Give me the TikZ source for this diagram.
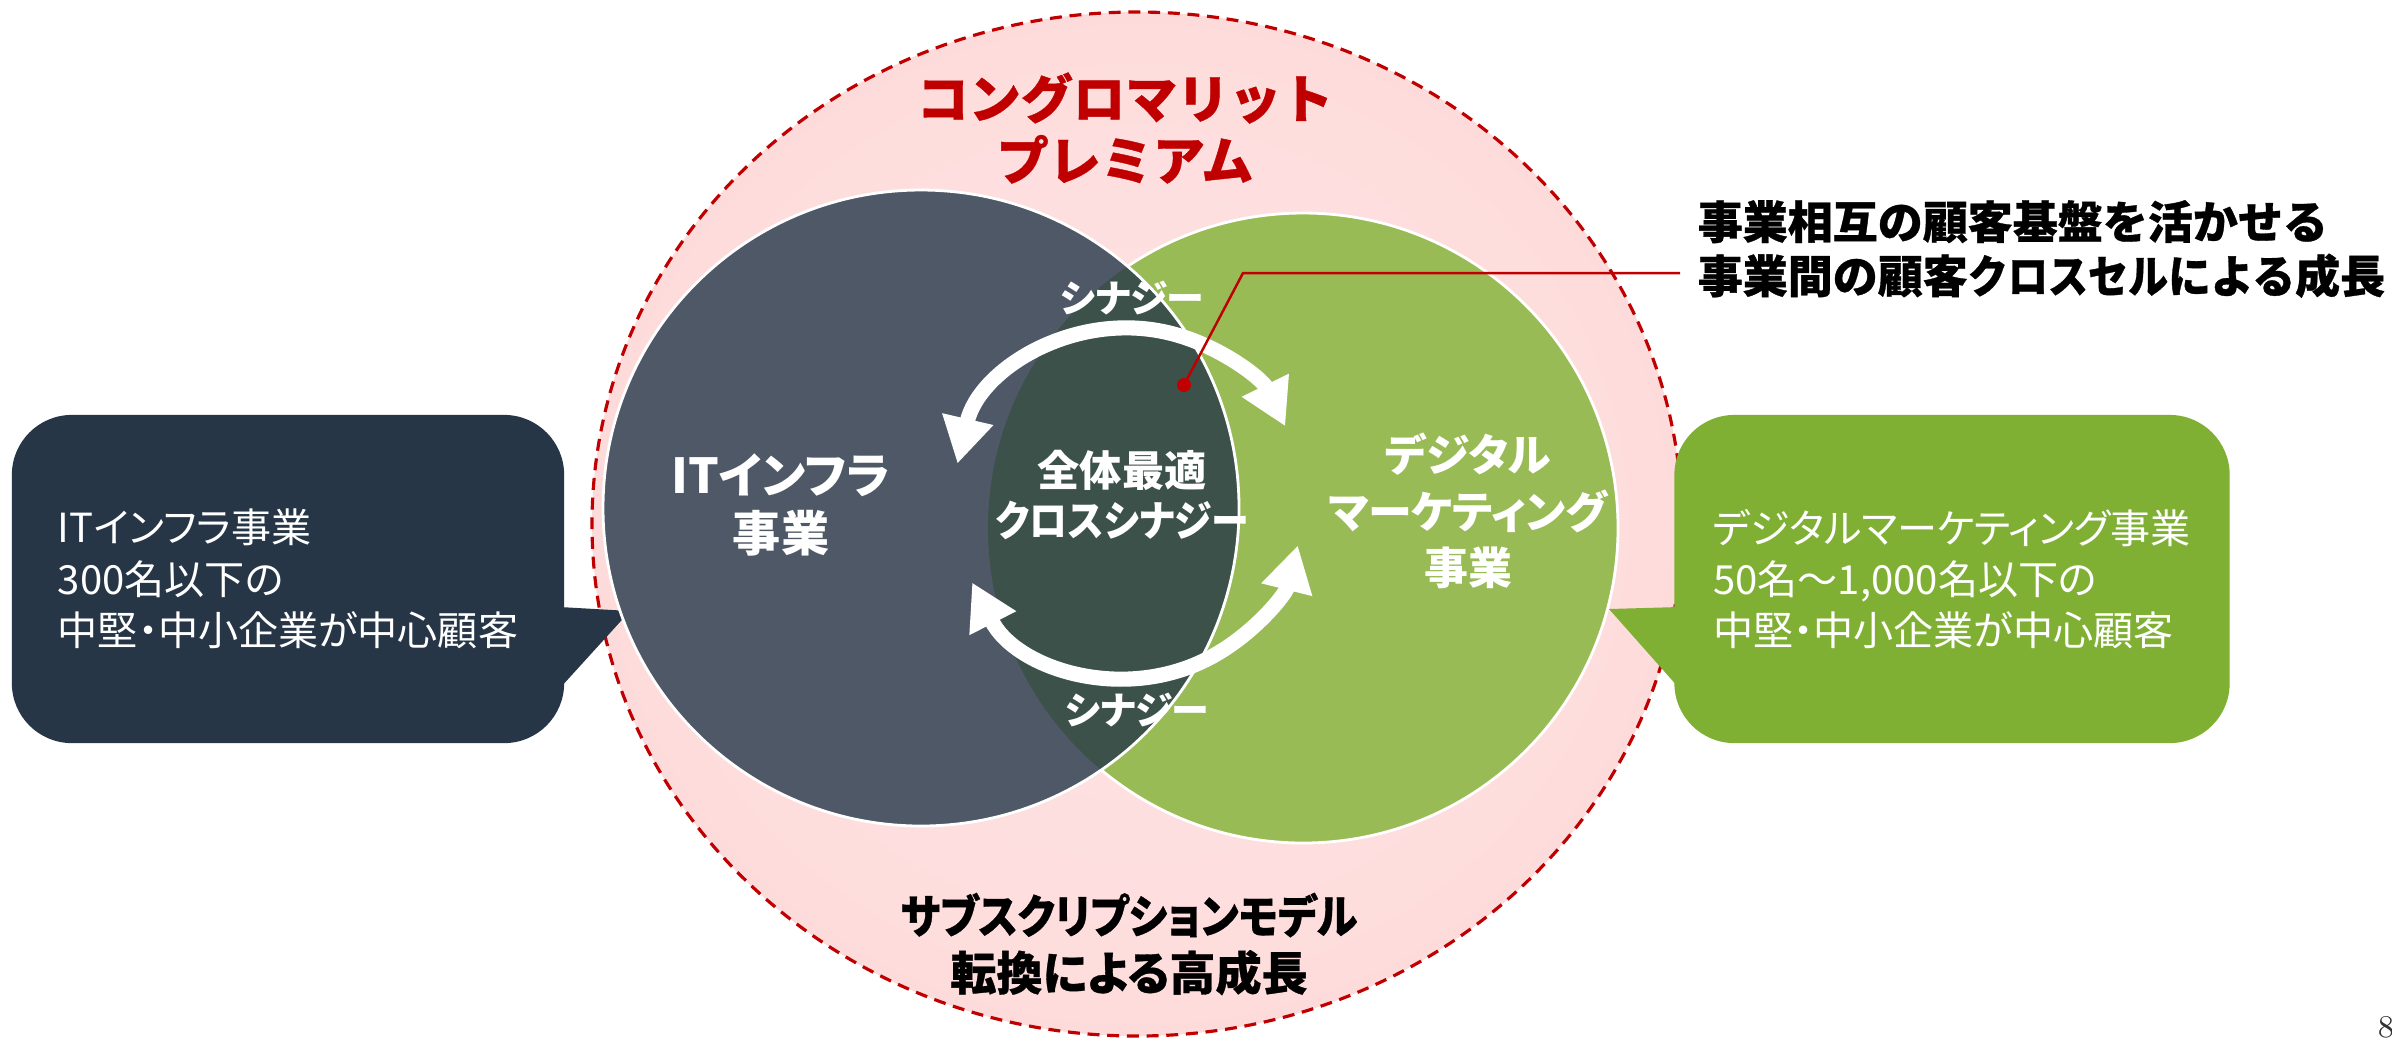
\documentclass[tikz,border=0pt]{standalone}
\usepackage{fontspec}
\usetikzlibrary{arrows.meta}
\newfontfamily\jpfont{Noto Sans CJK JP}[RawFeature=+palt]
\newfontfamily\jpmfont{Noto Sans CJK JP}[BoldFeatures={FakeBold=0.7}]
\newfontfamily\jpnfont{Noto Sans CJK JP}[RawFeature=+palt,FakeStretch=0.9]
\newfontfamily\jpsfont{Noto Sans CJK JP}[RawFeature=+palt,BoldFeatures={FakeBold=0.7}]
\newfontfamily\jpsnfont{Noto Sans CJK JP}[RawFeature=+palt,FakeStretch=0.9,BoldFeatures={FakeBold=0.7}]
\newfontfamily\jpkfont{Noto Sans CJK JP}[FakeStretch=0.89,BoldFeatures={FakeBold=0.7}]
\newfontfamily\jphfont{Noto Sans CJK JP}[FakeStretch=0.95,BoldFeatures={FakeBold=0.7}]
\definecolor{cred}{HTML}{C00000}
\definecolor{cdark}{HTML}{4F5866}
\definecolor{cgreen}{HTML}{98BB56}
\definecolor{clens}{HTML}{3B5149}
\definecolor{cbubL}{HTML}{263646}
\definecolor{cbubR}{HTML}{7FB034}
\definecolor{pinkin}{HTML}{FFE4E4}
\definecolor{pinka}{HTML}{FEDCDC}
\definecolor{pinkmid}{HTML}{FCCACA}
\definecolor{pinkb}{HTML}{F9B6B6}
\definecolor{pinkout}{HTML}{F5A2A4}
\pgfdeclareradialshading{pinkglow}{\pgfpoint{0bp}{0bp}}{color(0bp)=(pinkin); color(24bp)=(pinka); color(40bp)=(pinkmid); color(47bp)=(pinkb); color(50bp)=(pinkout); color(100bp)=(pinkout)}
\begin{document}
\begin{tikzpicture}[x=0.01cm,y=0.01cm,
  bubble/.style={rounded corners=0.6cm, minimum height=3.28cm, inner sep=0pt, text=white, align=left,
    font=\jpfont\fontsize{11.4pt}{14.6pt}\selectfont},
  circborder/.style={white, line width=0.8pt},
  synarrow/.style={white, line width=4.3pt, {Triangle[length=13pt,width=14pt]}-{Triangle[length=13pt,width=14pt]}},
  boldtxt/.style={align=center, inner sep=0pt},
  redline/.style={cred, line width=0.7pt}
]
\useasboundingbox (0,0) rectangle (2392,-1041);
\fill[white] (0,0) rectangle (2392,-1041);

% outer premium ellipse
\path[shading=pinkglow] (1137,-524) ellipse[x radius=545, y radius=512];
\draw[cred, line width=0.9pt, dash pattern=on 3.4pt off 2.2pt] (1137,-524) ellipse[x radius=545, y radius=512];

% speech bubbles
\node[bubble, fill=cbubL, minimum width=5.52cm] (lbub) at (288,-579)
  {ITインフラ事業\\300名以下の\\中堅・中小企業が中心顧客};
\fill[cbubL] (560,-607) -- (630,-611) -- (560,-688) -- cycle;
\node[bubble, fill=cbubR, minimum width=5.55cm] (rbub) at (1952,-579)
  {デジタルマーケティング事業\\50名～1,000名以下の\\中堅・中小企業が中心顧客};
\fill[cbubR] (1679,-607) -- (1609,-609) -- (1679,-688) -- cycle;

% business circles
\fill[cgreen] (1303,-528) circle[radius=315];
\draw[circborder] (1303,-528) circle[radius=315];
\fill[cdark] (921,-508) circle[radius=318];
\begin{scope}
  \clip (921,-508) circle[radius=318];
  \fill[clens] (1303,-528) circle[radius=315];
\end{scope}
\draw[circborder] (921,-508) circle[radius=318];

% synergy arrows
\coordinate (arcc) at (1128,-503);
\draw[synarrow] ([shift={(167:175)}]arcc) arc[start angle=167, end angle=26, radius=175];
\draw[synarrow] ([shift={(207:175)}]arcc) arc[start angle=207, end angle=346, radius=175];

% texts
\node[boldtxt, text=cred, font=\jpmfont\bfseries\fontsize{14.8pt}{17.6pt}\selectfont] (title) at (1125,-128)
  {コングロマリット\\プレミアム};
\node[boldtxt, align=left, anchor=west, font=\jpmfont\bfseries\fontsize{12.8pt}{15.4pt}\selectfont] (annot) at (1697,-249)
  {事業相互の顧客基盤を活かせる\\事業間の顧客{\jpkfont クロスセル}{\jphfont による}成長};
\node[boldtxt, font=\jpsfont\bfseries\fontsize{13.1pt}{16.2pt}\selectfont] (sub) at (1129,-944)
  {{\jpsnfont サブスクリプションモデル}\\転換による高成長};
\node[boldtxt, text=white, font=\jpfont\bfseries\fontsize{13.7pt}{16.5pt}\selectfont] (it) at (781,-505)
  {ITインフラ\\事業};
\node[boldtxt, text=white, font=\jpfont\bfseries\fontsize{12.5pt}{16pt}\selectfont] (dm) at (1468,-511)
  {デジタル\\マーケティング\\事業};
\node[boldtxt, text=white, font=\jpfont\bfseries\fontsize{12pt}{14.2pt}\selectfont] (cs) at (1122,-495)
  {全体最適\\{\jpnfont クロスシナジー}};
\node[boldtxt, text=white, font=\jpfont\bfseries\fontsize{10.8pt}{13pt}\selectfont] (syntop) at (1132,-298) {シナジー};
\node[boldtxt, text=white, font=\jpfont\bfseries\fontsize{10.8pt}{13pt}\selectfont] (synbot) at (1137,-710) {シナジー};

% callout line
\coordinate (dot) at (1184,-385);
\coordinate (bend) at (1243,-273);
\coordinate (lend) at (1680,-273);
\draw[redline] (dot) -- (bend) -- (lend);
\fill[cred] (dot) circle[radius=7];

% page number
\node[anchor=west, inner sep=0pt, text=black!80, font=\fontsize{9pt}{10pt}\selectfont] (pnum) at (2377,-1027) {8};
\end{tikzpicture}
\end{document}
